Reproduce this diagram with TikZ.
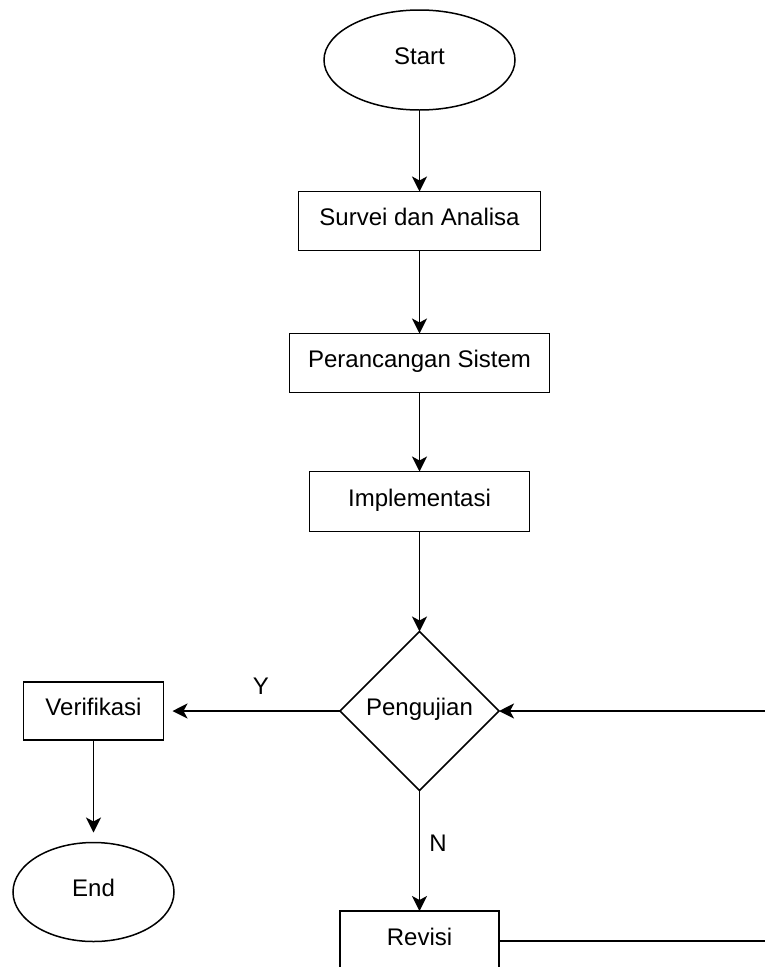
\documentclass[tikz,border=0pt]{standalone}
\usepackage{fontspec}
\setmainfont{Liberation Sans}
\usetikzlibrary{shapes.geometric,arrows.meta}
\tikzset{
  base/.style={draw=black, line width=1.5pt, inner sep=0pt, outer sep=0pt, font=\fontsize{24}{28}\selectfont, text height=17.2pt, text depth=8pt},
  boxnode/.style={base, rectangle},
  ovalnode/.style={base, ellipse},
  decnode/.style={base, diamond, aspect=1},
  conn/.style={draw=black, line width=1.8pt, -{Stealth[length=15pt,width=15pt,inset=4pt]}},
  plainconn/.style={draw=black, line width=1.8pt},
  lbl/.style={font=\fontsize{24}{28}\selectfont, inner sep=0pt}
}
\begin{document}
\begin{tikzpicture}[x=1pt,y=-1pt]
\useasboundingbox (0,0) rectangle (765,967);
\clip (0,0) rectangle (765,967);
\node[ovalnode, minimum width=191pt, minimum height=100pt] (start) at (419.5,60) {Start};
\node[boxnode, minimum width=242pt, minimum height=59pt] (survei) at (419.5,221) {Survei dan Analisa};
\node[boxnode, minimum width=260pt, minimum height=59pt] (peran) at (419.5,363) {Perancangan Sistem};
\node[boxnode, minimum width=220pt, minimum height=60pt] (impl) at (419.5,501.5) {Implementasi};
\node[decnode, minimum width=159pt, minimum height=159pt] (uji) at (419.5,711) {Pengujian};
\node[boxnode, minimum width=140pt, minimum height=58pt] (verif) at (93.5,711) {Verifikasi};
\node[ovalnode, minimum width=161pt, minimum height=99pt] (end) at (93.5,892) {End};
\node[boxnode, minimum width=159pt, minimum height=60pt] (revisi) at (419.5,941) {Revisi};
\coordinate (loopright) at (790,941);
\draw[conn] (start.south) -- (survei.north);
\draw[conn] (survei.south) -- (peran.north);
\draw[conn] (peran.south) -- (impl.north);
\draw[conn] (impl.south) -- (uji.north);
\draw[conn, shorten >=9pt] (uji.west) -- (verif.east);
\draw[conn, shorten >=10pt] (verif.south) -- (end.north);
\draw[conn] (uji.south) -- (revisi.north);
\draw[plainconn] (revisi.east) -- (loopright);
\draw[conn] (loopright) |- (uji.east);
\node[lbl] (ylabel) at (261,686) {Y};
\node[lbl] (nlabel) at (438,843) {N};
\end{tikzpicture}
\end{document}
